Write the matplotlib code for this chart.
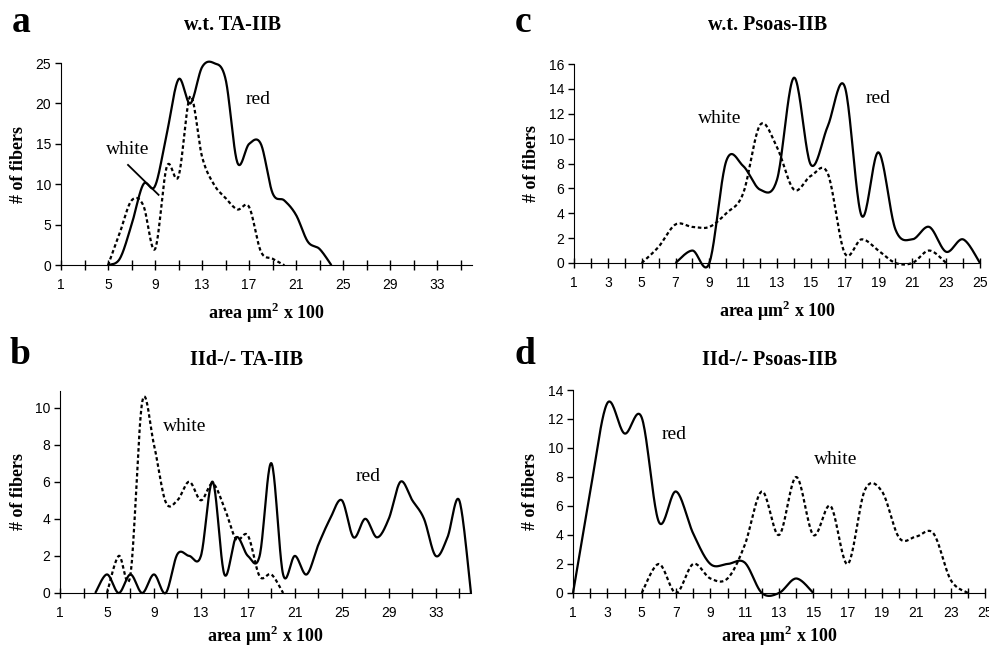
import numpy as np
import matplotlib
matplotlib.use("Agg")
import matplotlib.pyplot as plt

# painel a: w.t. TA-IIB
a_red_x = [5, 6, 7, 8, 9, 10, 11, 12, 13, 14, 15, 16, 17, 18, 19, 20, 21, 22, 23, 24]
a_red_y = [0, 0.8, 5, 10, 9.8, 16.3, 23, 20, 24.5, 25, 23, 12.7, 15, 15, 8.9, 8, 6.2, 2.9, 2, 0]
a_white_x = [5, 6, 7, 8, 9, 10, 11, 12, 13, 14, 15, 16, 17, 18, 19, 20]
a_white_y = [0, 4, 8, 7.4, 2, 12.2, 11, 20.9, 13.4, 10, 8.3, 6.9, 7.2, 1.7, 0.8, 0]

# painel b: IId-/- TA-IIB
b_red_x = [4, 5, 6, 7, 8, 9, 10, 11, 12, 13, 14, 15, 16, 17, 18, 19, 20, 21, 22, 23,
           24, 25, 26, 27, 28, 29, 30, 31, 32, 33, 34, 35, 36]
b_red_y = [0, 1, 0, 1, 0, 1, 0, 2.1, 2, 2, 6, 1, 3, 2, 2, 7, 1, 2, 1, 2.6,
           4, 5, 3, 4, 3, 4, 6, 5, 4, 2, 3, 5, 0]
b_white_x = [5, 6, 7, 8, 9, 10, 11, 12, 13, 14, 15, 16, 17, 18, 19, 20]
b_white_y = [0, 2, 1, 10.3, 8, 4.9, 5, 6, 5, 5.9, 4.6, 2.9, 3.1, 0.9, 1, 0]

# painel c: w.t. Psoas-IIB
c_red_x = [7, 8, 9, 10, 11, 12, 13, 14, 15, 16, 17, 18, 19, 20, 21, 22, 23, 24, 25]
c_red_y = [0, 1, 0, 8.2, 7.8, 5.9, 6.7, 14.9, 7.9, 11, 14.2, 3.8, 8.9, 2.7, 1.9, 2.9, 0.9, 1.9, 0]
c_white_x = [5, 6, 7, 8, 9, 10, 11, 12, 13, 14, 15, 16, 17, 18, 19, 20, 21, 22, 23]
c_white_y = [0, 1.3, 3.1, 2.9, 2.9, 4, 5.6, 11.1, 9.3, 5.9, 7, 7.2, 0.8, 1.9, 1, 0, 0, 1, 0]

# painel d: IId-/- Psoas-IIB
d_red_x = [1, 2, 3, 4, 5, 6, 7, 8, 9, 10, 11, 12, 13, 14, 15]
d_red_y = [0, 7, 13.1, 11, 12.1, 4.9, 7, 4.1, 2, 2, 2.1, 0, 0, 1, 0]
d_white_x = [5, 6, 7, 8, 9, 10, 11, 12, 13, 14, 15, 16, 17, 18, 19, 20, 21, 22, 23, 24]
d_white_y = [0, 2, 0, 2, 1, 1, 3.3, 7, 4, 8, 4, 6, 2, 7.1, 7, 3.8, 3.9, 4.1, 0.9, 0]

SERIF = "Liberation Serif"
SANS = "Liberation Sans"


def suavizar(x, y, n=24):
    """Curva suavizada tipo Excel (Catmull-Rom em Bezier)."""
    p = np.column_stack([x, y]).astype(float)
    p = np.vstack([p[0], p, p[-1]])
    t = np.linspace(0, 1, n)[:, None]
    pts = []
    for i in range(1, len(p) - 2):
        p0, p1, p2, p3 = p[i - 1], p[i], p[i + 1], p[i + 2]
        b1 = p1 + (p2 - p0) / 6
        b2 = p2 - (p3 - p1) / 6
        seg = ((1 - t) ** 3) * p1 + 3 * ((1 - t) ** 2) * t * b1 + 3 * (1 - t) * t ** 2 * b2 + t ** 3 * p2
        pts.append(seg if i == 1 else seg[1:])
    pts = np.vstack(pts)
    return pts[:, 0], pts[:, 1]


def painel(rect, titulo, xmax, ymax, ytop, ystep, xtick_step, xlabel_step,
           red, white, notas, xpad=6):
    ax = fig.add_axes(rect)
    xs, ys = suavizar(*red)
    ax.plot(xs, ys, color="black", lw=1.6, solid_capstyle="butt", clip_on=False)
    xs, ys = suavizar(*white)
    ax.plot(xs, ys, color="black", lw=1.6, linestyle=(0, (1.6, 1.2)), clip_on=False)
    ax.set_xlim(1, xmax)
    ax.set_ylim(0, ytop)
    for s in ["top", "right"]:
        ax.spines[s].set_visible(False)
    ax.spines["bottom"].set_position(("data", 0))
    ax.spines["left"].set_bounds(0, ytop)
    ax.set_yticks(np.arange(0, ymax + 0.1, ystep))
    ax.set_xticks(np.arange(1, xmax + 0.1, xtick_step))
    ax.set_xticklabels([str(v) if (v - 1) % xlabel_step == 0 else ""
                        for v in range(1, xmax + 1, xtick_step)])
    ax.tick_params(axis="x", direction="inout", length=7, width=1, pad=6)
    ax.tick_params(axis="y", direction="out", length=4, width=1, pad=3)
    for lbl in ax.get_xticklabels() + ax.get_yticklabels():
        lbl.set_fontfamily(SANS)
        lbl.set_fontsize(10)
    ax.set_xlabel("area μm$^\\mathbf{2}$ x 100", fontfamily=SERIF, fontweight="bold",
                  fontsize=13, labelpad=xpad)
    ax.set_ylabel("# of fibers", fontfamily=SERIF, fontweight="bold", fontsize=13,
                  labelpad=6)
    for txt, x, y in notas:
        ax.text(x, y, txt, fontfamily=SERIF, fontsize=14, ha="center", va="center")
    return ax


plt.rcParams["mathtext.fontset"] = "custom"
plt.rcParams["mathtext.bf"] = "Liberation Serif:bold"
plt.rcParams["mathtext.rm"] = "Liberation Serif"

fig = plt.figure(figsize=(9.89, 6.5), dpi=100)

ax_a = painel([0.0617, 0.592, 0.416, 0.311], "w.t. TA-IIB", 36, 25, 25, 5, 2, 4,
              (a_red_x, a_red_y), (a_white_x, a_white_y),
              [("red", 17.8, 20.5), ("white", 6.7, 14.3)])
ax_a.plot([6.7, 9.3], [12.4, 8.7], color="black", lw=1.3)

painel([0.0607, 0.0877, 0.4155, 0.311], "IId-/- TA-IIB", 36, 10, 10.9, 2, 2, 4,
       (b_red_x, b_red_y), (b_white_x, b_white_y),
       [("white", 11.6, 9.0), ("red", 27.2, 6.3)], xpad=3)

painel([0.5804, 0.5954, 0.4105, 0.3061], "w.t. Psoas-IIB", 25, 16, 16, 2, 1, 2,
       (c_red_x, c_red_y), (c_white_x, c_white_y),
       [("red", 19.0, 13.2), ("white", 9.6, 11.6)])

painel([0.5794, 0.0877, 0.4166, 0.3123], "IId-/- Psoas-IIB", 25, 14, 14, 2, 1, 2,
       (d_red_x, d_red_y), (d_white_x, d_white_y),
       [("red", 6.9, 10.9), ("white", 16.3, 9.2)], xpad=3)

# letras e titulos dos paineis
fig.text(12 / 989, 1 - 22 / 650, "a", fontfamily=SERIF, fontweight="bold", fontsize=27, va="center")
fig.text(233 / 989, 1 - 25 / 650, "w.t. TA-IIB", fontfamily=SERIF, fontweight="bold", fontsize=14.5,
         ha="center", va="center")
fig.text(515 / 989, 1 - 22 / 650, "c", fontfamily=SERIF, fontweight="bold", fontsize=27, va="center")
fig.text(768 / 989, 1 - 25 / 650, "w.t. Psoas-IIB", fontfamily=SERIF, fontweight="bold", fontsize=14.5,
         ha="center", va="center")
fig.text(10 / 989, 1 - 354 / 650, "b", fontfamily=SERIF, fontweight="bold", fontsize=27, va="center")
fig.text(247 / 989, 1 - 360 / 650, "IId-/- TA-IIB", fontfamily=SERIF, fontweight="bold", fontsize=14.5,
         ha="center", va="center")
fig.text(515 / 989, 1 - 354 / 650, "d", fontfamily=SERIF, fontweight="bold", fontsize=27, va="center")
fig.text(770 / 989, 1 - 360 / 650, "IId-/- Psoas-IIB", fontfamily=SERIF, fontweight="bold", fontsize=14.5,
         ha="center", va="center")

fig.savefig("out.png", dpi=100)
